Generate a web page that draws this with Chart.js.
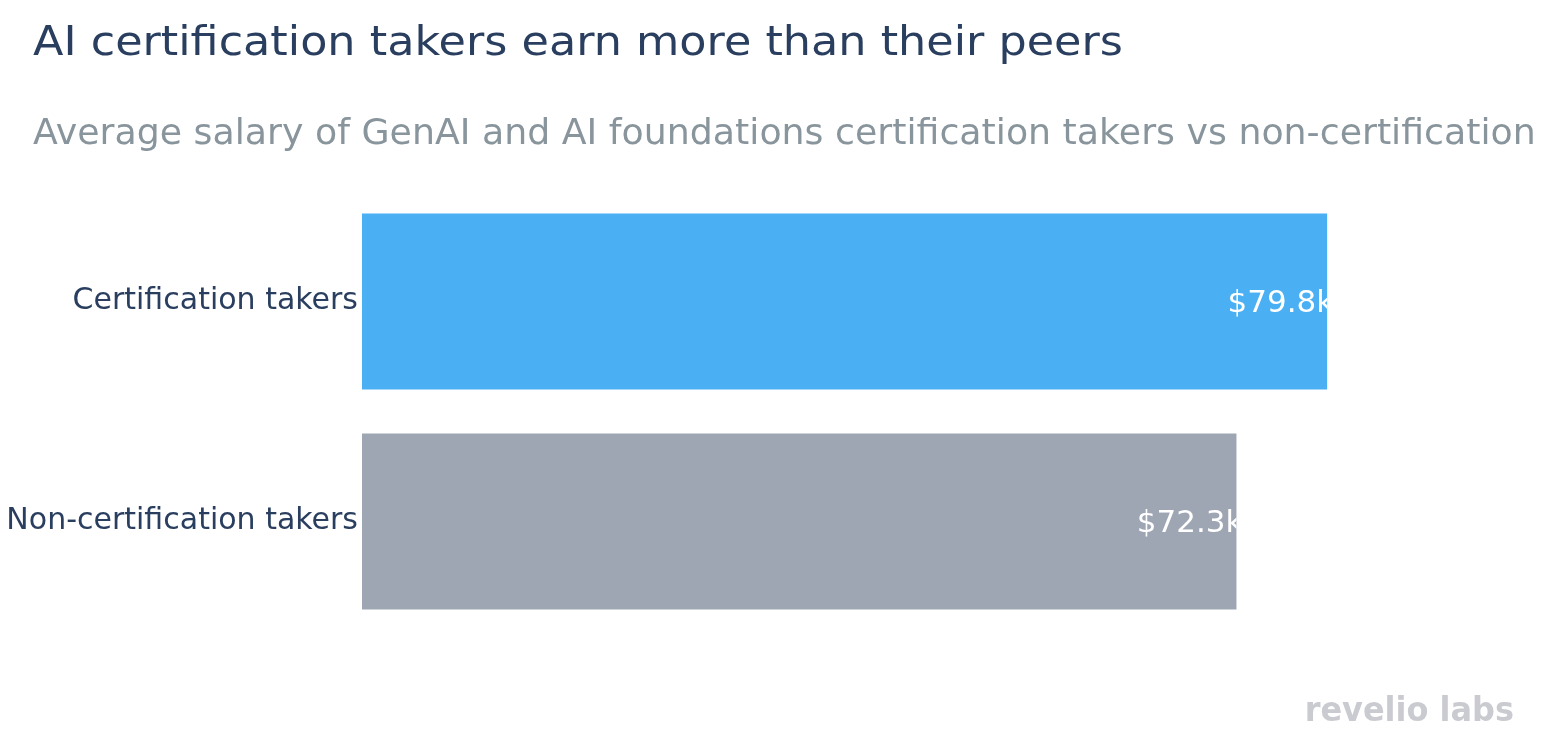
<!DOCTYPE html>
<html lang="en">
<head>
    <meta charset="UTF-8">
    <title>AI certification salaries</title>
    <script src="https://cdn.jsdelivr.net/npm/chart.js"></script>
    <style>
        html, body {
            margin: 0;
            padding: 0;
            background-color: #ffffff;
        }
        .chart-container {
            width: 1554px;
            height: 736px;
        }
    </style>
</head>
<body>
    <div class="chart-container">
        <canvas id="salaryChart" width="1554" height="736"></canvas>
    </div>

    <script>
        const categories = ['Certification takers', 'Non-certification takers'];
        const salaries = [79.8, 72.3];          // average salary, $k
        const salaryLabels = ['$79.8k', '$72.3k'];
        const barColors = ['#4aaff3', '#9ea5b3'];

        const titleText = 'AI certification takers earn more than their peers';
        const subtitleText = 'Average salary of GenAI and AI foundations certification takers vs non-certification';
        const fontFamily = '"DejaVu Sans", Verdana, sans-serif';

        // DejaVu is a bit narrower than the original font, so stretch it a little
        function wideText(ctx, text, x, y, sx) {
            ctx.save();
            ctx.translate(x, y);
            ctx.scale(sx, 1);
            ctx.fillText(text, 0, 0);
            ctx.restore();
        }

        // Titles, value labels and the logo drawn straight on the canvas
        const textPlugin = {
            id: 'textPlugin',
            afterDatasetsDraw(chart) {
                const ctx = chart.ctx;
                const meta = chart.getDatasetMeta(0);
                ctx.save();
                ctx.font = '31px ' + fontFamily;
                ctx.fillStyle = '#ffffff';
                ctx.textAlign = 'right';
                ctx.textBaseline = 'middle';
                meta.data.forEach((bar, i) => {
                    const h = bar.height;
                    ctx.save();
                    ctx.beginPath();
                    ctx.rect(bar.base, bar.y - h / 2, bar.x - bar.base, h);
                    ctx.clip();
                    ctx.fillText(salaryLabels[i], bar.x + 7, bar.y + 2);
                    ctx.restore();
                });
                ctx.restore();
            },
            afterDraw(chart) {
                const ctx = chart.ctx;
                ctx.save();
                ctx.textAlign = 'left';
                ctx.textBaseline = 'alphabetic';
                ctx.fillStyle = '#2a3f5f';
                ctx.font = '41px ' + fontFamily;
                wideText(ctx, titleText, 33, 55, 1.085);
                ctx.fillStyle = '#89959c';
                ctx.font = '36px ' + fontFamily;
                wideText(ctx, subtitleText, 33, 144, 1.008);
                ctx.fillStyle = '#c9cbd0';
                ctx.font = 'bold 34px ' + fontFamily;
                ctx.textAlign = 'right';
                wideText(ctx, 'revelio labs', 1514, 721, 0.94);
                ctx.restore();
            }
        };

        const ctx1 = document.getElementById('salaryChart').getContext('2d');
        const salaryChart = new Chart(ctx1, {
            type: 'bar',
            data: {
                labels: categories,
                datasets: [{
                    data: salaries,
                    backgroundColor: barColors,
                    borderWidth: 0,
                    barPercentage: 0.8,
                    categoryPercentage: 1.0
                }]
            },
            plugins: [textPlugin],
            options: {
                indexAxis: 'y',
                responsive: false,
                animation: false,
                maintainAspectRatio: false,
                layout: {
                    padding: { top: 191.5, bottom: 104.5, left: 0, right: 43 }
                },
                plugins: {
                    legend: { display: false },
                    tooltip: { enabled: false }
                },
                scales: {
                    x: {
                        display: false,
                        min: 0,
                        max: 95
                    },
                    y: {
                        grid: { display: false, drawTicks: false },
                        border: { display: false },
                        afterFit(scale) { scale.width = 362; },
                        ticks: {
                            padding: 4,
                            color: '#2a3f5f',
                            font: { family: fontFamily, size: 30 }
                        }
                    }
                }
            }
        });
    </script>
</body>
</html>
